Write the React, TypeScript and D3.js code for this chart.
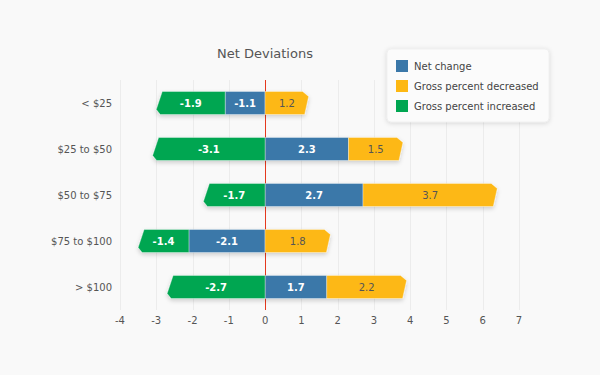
import React from "react";
import * as d3 from "d3";

const categories = ["< $25", "$25 to $50", "$50 to $75", "$75 to $100", "> $100"];
const seriesNames = ["Net change", "Gross percent decreased", "Gross percent increased"];
const netChange = [-1.1, 2.3, 2.7, -2.1, 1.7];
const grossDecreased = [1.2, 1.5, 3.7, 1.8, 2.2];
const grossIncreased = [-1.9, -3.1, -1.7, -1.4, -2.7];
const xTicks = [-4, -3, -2, -1, 0, 1, 2, 3, 4, 5, 6, 7];
const colors = ["#3b78a9", "#fdb813", "#00a651"];
const labelColors = ["#ffffff", "#555555", "#ffffff"];
const labelWeights = ["bold", "normal", "bold"];

const W = 600;
const H = 375;
const FONT = "'DejaVu Sans', Verdana, sans-serif";

export default function App() {
  const x = d3.scaleLinear().domain([-4, 7]).range([120, 519]);
  const y = d3
    .scaleBand<string>()
    .domain(categories)
    .range([80, 310])
    .paddingInner(0.5)
    .paddingOuter(0.25);

  const table = categories.map((c, i) => ({
    cat: c,
    [seriesNames[0]]: netChange[i],
    [seriesNames[1]]: grossDecreased[i],
    [seriesNames[2]]: grossIncreased[i],
  }));
  const stacked = d3
    .stack<any>()
    .keys(seriesNames)
    .offset(d3.stackOffsetDiverging)(table);

  const segs: any[] = [];
  categories.forEach((c, i) => {
    const rowSegs = stacked.map((s, si) => {
      const [a, b] = s[i];
      return { si, cat: c, lo: Math.min(a, b), hi: Math.max(a, b), val: (s[i].data as any)[seriesNames[si]] };
    });
    const minV = d3.min(rowSegs, (d) => d.lo)!;
    const maxV = d3.max(rowSegs, (d) => d.hi)!;
    rowSegs.forEach((d) => {
      segs.push({ ...d, outerNeg: d.val < 0 && d.lo === minV, outerPos: d.val > 0 && d.hi === maxV });
    });
  });

  const bw = y.bandwidth();
  const segPath = (d: any) => {
    const y0 = y(d.cat)!;
    const y1 = y0 + bw;
    const x0 = x(d.lo);
    const x1 = x(d.hi);
    if (d.outerPos) {
      return `M${x0},${y0}L${x1 - 6},${y0}L${x1},${y0 + 5}L${x1 - 4},${y1}L${x0},${y1}Z`;
    }
    if (d.outerNeg) {
      return `M${x1},${y0}L${x0 + 6},${y0}L${x0},${y1 - 5}L${x0 + 4},${y1}L${x1},${y1}Z`;
    }
    return `M${x0},${y0}L${x1},${y0}L${x1},${y1}L${x0},${y1}Z`;
  };
  const crisp = (v: number) => Math.round(v) + 0.5;

  return (
    <svg
      width={W}
      height={H}
      style={{ position: "absolute", left: 0, top: 0, background: "#f9f9f9" }}
      fontFamily={FONT}
    >
      <defs>
        <filter id="shadow" x="-10%" y="-30%" width="120%" height="180%">
          <feDropShadow dx="0" dy="2" stdDeviation="2" floodColor="#000" floodOpacity="0.18" />
        </filter>
        <filter id="lshadow" x="-10%" y="-20%" width="120%" height="150%">
          <feDropShadow dx="0" dy="1" stdDeviation="2.5" floodColor="#000" floodOpacity="0.15" />
        </filter>
      </defs>
      <rect x={0} y={0} width={W} height={H} fill="#f9f9f9" />
      <text x={265} y={58} textAnchor="middle" fontSize={13} fill="#555">
        Net Deviations
      </text>
      {xTicks.map((t) => (
        <g key={t}>
          {t !== 0 && (
            <line x1={crisp(x(t))} x2={crisp(x(t))} y1={80} y2={310} stroke="#ececec" strokeWidth={1} />
          )}
          <text x={x(t)} y={324} textAnchor="middle" fontSize={10} fill="#555">
            {t}
          </text>
        </g>
      ))}
      <line x1={crisp(x(0))} x2={crisp(x(0))} y1={80} y2={310} stroke="#e5391e" strokeWidth={1} />
      {categories.map((c) => (
        <text
          key={c}
          x={112}
          y={y(c)! + bw / 2 + 3.5}
          textAnchor="end"
          fontSize={10}
          fill="#555"
        >
          {c}
        </text>
      ))}
      <g filter="url(#shadow)">
        {segs.map((d, k) => (
          <path
            key={k}
            d={segPath(d)}
            fill={colors[d.si]}
            stroke="rgba(255,255,255,0.35)"
            strokeWidth={1}
          />
        ))}
      </g>
      {segs.map((d, k) => (
        <text
          key={"l" + k}
          x={(x(d.lo) + x(d.hi)) / 2}
          y={y(d.cat)! + bw / 2 + 3.5}
          textAnchor="middle"
          fontSize={10}
          fontWeight={labelWeights[d.si]}
          fill={labelColors[d.si]}
        >
          {d.val.toFixed(1)}
        </text>
      ))}
      <g>
        <rect
          x={387}
          y={49}
          width={162}
          height={73}
          rx={4}
          fill="#fbfbfb"
          stroke="#e6e6e6"
          strokeWidth={0.5}
          filter="url(#lshadow)"
        />
        {seriesNames.map((s, i) => (
          <g key={s}>
            <rect x={396} y={60 + i * 20} width={12} height={12} fill={colors[i]} />
            <text x={414} y={70 + i * 20} fontSize={10} fill="#444">
              {s}
            </text>
          </g>
        ))}
      </g>
    </svg>
  );
}
